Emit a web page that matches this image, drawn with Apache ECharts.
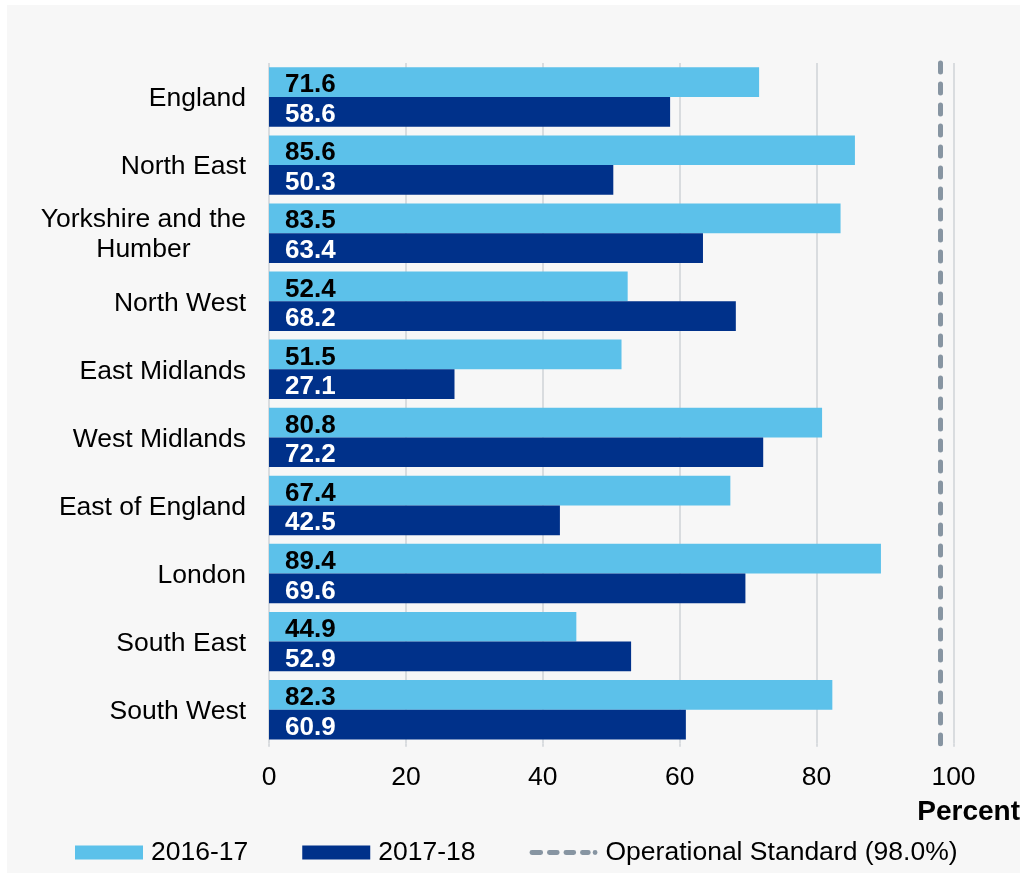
<!DOCTYPE html>
<html>
<head>
<meta charset="utf-8">
<script src="https://cdn.jsdelivr.net/npm/echarts@6/dist/echarts.min.js"></script>
<style>
  html, body { margin: 0; padding: 0; background: #ffffff; }
  #panel { position: absolute; left: 7px; top: 5px; width: 1013px; height: 868px; background: #f7f7f7; }
  #chart { position: absolute; left: 0; top: 0; width: 1023px; height: 874px; }
</style>
</head>
<body>
<div id="panel"></div>
<div id="chart"></div>
<script>
// Regions, top to bottom
const categories = [
  'England', 'North East', 'Yorkshire and the\nHumber', 'North West', 'East Midlands',
  'West Midlands', 'East of England', 'London', 'South East', 'South West'
];
// Percent achieved per region
const values2016 = [71.6, 85.6, 83.5, 52.4, 51.5, 80.8, 67.4, 89.4, 44.9, 82.3];
const values2017 = [58.6, 50.3, 63.4, 68.2, 27.1, 72.2, 42.5, 69.6, 52.9, 60.9];
// Operational standard (percent)
const standardValue = 98.0;
const seriesNames = ['2016-17', '2017-18', 'Operational Standard (98.0%)'];

const FONT = 'Liberation Sans, Arial, sans-serif';
const LIGHT = '#5cc1ea';
const DARK = '#00318a';
const GREY = '#8795a2';

// Rounded dash segment for the legend swatch of the standard line
function dash(x0, x1) {
  const r = 2.5, t = 4.5, b = 9.5;
  return 'M' + (x0 + r) + ' ' + t + 'L' + (x1 - r) + ' ' + t +
    'A' + r + ' ' + r + ' 0 0 1 ' + (x1 - r) + ' ' + b +
    'L' + (x0 + r) + ' ' + b +
    'A' + r + ' ' + r + ' 0 0 1 ' + (x0 + r) + ' ' + t + 'Z';
}
const dashIcon = 'path://' + [dash(0, 14), dash(18, 31), dash(35, 48), dash(52, 63), dash(65, 70)].join('');

const chart = echarts.init(document.getElementById('chart'), null, { renderer: 'canvas' });

const valueLabel = (color) => ({
  show: true,
  position: 'insideLeft',
  distance: 16,
  offset: [0, 3],
  color: color,
  fontFamily: FONT,
  fontSize: 26,
  fontWeight: 'bold',
  formatter: (p) => p.value.toFixed(1)
});

chart.setOption({
  backgroundColor: 'transparent',
  animation: false,
  textStyle: { fontFamily: FONT },
  title: {
    text: 'Percent',
    right: 3,
    top: 798,
    padding: 0,
    textStyle: { fontFamily: FONT, fontSize: 28, fontWeight: 'bold', color: '#000000' }
  },
  legend: {
    left: 75,
    top: 839,
    padding: 0,
    itemWidth: 68,
    itemHeight: 14,
    itemGap: 54,
    data: [
      { name: seriesNames[0], icon: 'rect' },
      { name: seriesNames[1], icon: 'rect' },
      { name: seriesNames[2], icon: dashIcon, itemStyle: { color: GREY } }
    ],
    textStyle: { fontFamily: FONT, fontSize: 26.5, color: '#000000', padding: [0, 0, 0, 3] }
  },
  grid: { left: 269, right: 69.5, top: 63, bottom: 130.3, containLabel: false },
  xAxis: {
    type: 'value',
    min: 0,
    max: 100,
    interval: 20,
    axisLine: { show: false },
    axisTick: { show: true, length: 3, lineStyle: { color: '#d9dcdf', width: 2 } },
    splitLine: { show: true, lineStyle: { color: '#d9dcdf', width: 2 } },
    axisLabel: { color: '#000000', fontFamily: FONT, fontSize: 26.5, margin: 20 }
  },
  yAxis: {
    type: 'category',
    inverse: true,
    data: categories,
    axisLine: { show: false },
    axisTick: { show: false },
    axisLabel: {
      margin: 23,
      padding: [4, 0, 0, 0],
      formatter: (v) => '{c|' + v + '}',
      rich: {
        c: { align: 'center', color: '#000000', fontFamily: FONT, fontSize: 26.5, lineHeight: 30 }
      }
    }
  },
  series: [
    {
      name: seriesNames[0],
      type: 'bar',
      data: values2016,
      barGap: '0%',
      barCategoryGap: '12.7%',
      itemStyle: { color: LIGHT },
      label: valueLabel('#000000')
    },
    {
      name: seriesNames[1],
      type: 'bar',
      data: values2017,
      barGap: '0%',
      barCategoryGap: '12.7%',
      itemStyle: { color: DARK },
      label: valueLabel('#ffffff')
    },
    {
      name: seriesNames[2],
      type: 'line',
      data: [],
      symbol: 'none',
      itemStyle: { color: GREY },
      lineStyle: { color: GREY, width: 5, type: [9, 12], cap: 'round' },
      markLine: {
        silent: true,
        symbol: ['none', 'none'],
        label: { show: false },
        lineStyle: { color: GREY, width: 5, type: [9, 12], cap: 'round' },
        data: [{ xAxis: standardValue }]
      }
    }
  ]
});
</script>
</body>
</html>
